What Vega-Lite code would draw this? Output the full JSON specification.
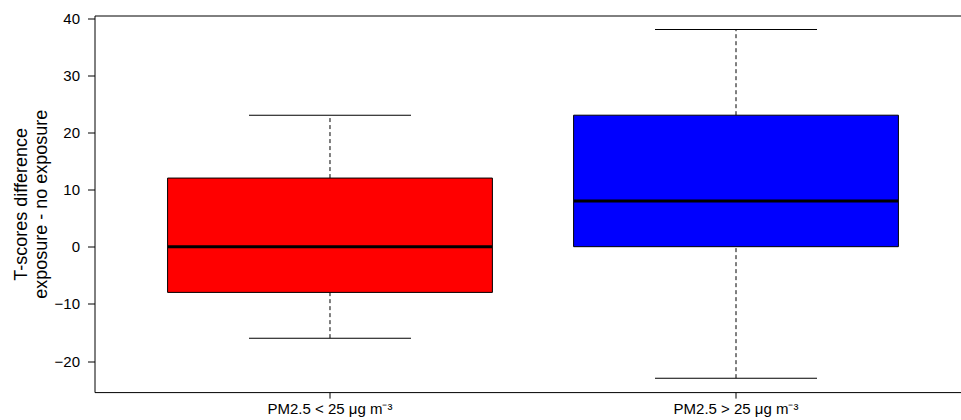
{
  "$schema": "https://vega.github.io/schema/vega-lite/v6.json",
  "autosize": "none",
  "padding": {"left": 94.5, "top": 15.5, "right": 0, "bottom": 27.9},
  "width": 867,
  "height": 376.6,
  "background": "white",
  "config": {
    "font": "Liberation Sans",
    "view": {"stroke": "black", "strokeWidth": 1},
    "axis": {"grid": false, "domain": false, "tickColor": "black", "labelColor": "black", "titleColor": "black", "labelFontSize": 15, "titleFontWeight": "normal"}
  },
  "data": {
    "values": [
      {"group": "PM2.5 < 25 μg m⁻³", "lower": -16, "q1": -8, "median": 0, "q3": 12, "upper": 23, "exposure": "low"},
      {"group": "PM2.5 > 25 μg m⁻³", "lower": -23, "q1": 0, "median": 8, "q3": 23, "upper": 38, "exposure": "high"}
    ]
  },
  "encoding": {
    "x": {
      "field": "group", "type": "nominal", "sort": null,
      "scale": {"type": "band", "paddingInner": 0, "paddingOuter": 0.08, "range": [0, 877]},
      "axis": {"title": null, "labelAngle": 0, "tickSize": 6, "labelPadding": 3, "labelBaseline": "top"}
    }
  },
  "layer": [
    {
      "mark": {"type": "rule", "color": "black", "strokeWidth": 1, "strokeDash": [4, 3]},
      "encoding": {
        "y": {"field": "lower", "type": "quantitative", "scale": {"domain": [-25.44, 40.44], "nice": false, "zero": false},
          "axis": {"values": [-20, -10, 0, 10, 20, 30, 40], "tickSize": 7, "labelPadding": 8,
            "title": ["T-scores difference", "exposure - no exposure"], "titleFontSize": 18, "titleLineHeight": 20, "titlePadding": 4}},
        "y2": {"field": "q1"}
      }
    },
    {
      "mark": {"type": "rule", "color": "black", "strokeWidth": 1, "strokeDash": [4, 3]},
      "encoding": {
        "y": {"field": "q3", "type": "quantitative"},
        "y2": {"field": "upper"}
      }
    },
    {
      "mark": {"type": "bar", "width": {"band": 0.8}, "stroke": "black", "strokeWidth": 1},
      "encoding": {
        "y": {"field": "q1", "type": "quantitative"},
        "y2": {"field": "q3"},
        "fill": {"field": "exposure", "type": "nominal", "scale": {"domain": ["low", "high"], "range": ["#FF0000", "#0000FF"]}, "legend": null}
      }
    },
    {
      "mark": {"type": "tick", "color": "black", "size": 324, "thickness": 3, "opacity": 1},
      "encoding": {"y": {"field": "median", "type": "quantitative"}}
    },
    {
      "mark": {"type": "tick", "color": "black", "size": 162, "thickness": 1, "opacity": 1},
      "encoding": {"y": {"field": "upper", "type": "quantitative"}}
    },
    {
      "mark": {"type": "tick", "color": "black", "size": 162, "thickness": 1, "opacity": 1},
      "encoding": {"y": {"field": "lower", "type": "quantitative"}}
    }
  ]
}
